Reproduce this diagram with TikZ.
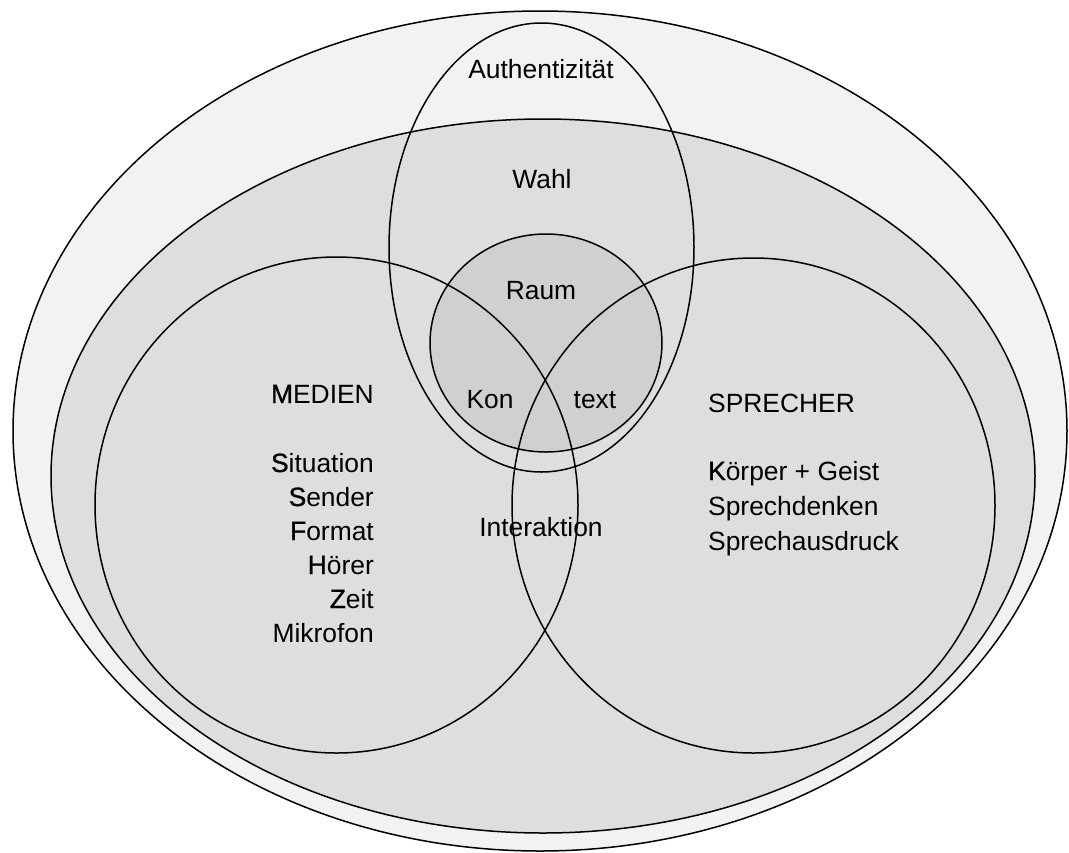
\documentclass[tikz,border=0pt]{standalone}
\usepackage{fontspec}
\setmainfont{Liberation Sans}
\newfontfamily\fbf[FakeBold=1.0]{Liberation Sans}
\newcommand{\hl}[1]{{\fbf #1}}
\tikzset{
  lbl/.style={inner sep=0pt, font=\fontsize{26.4}{34}\selectfont},
  ring/.style={draw=black, line width=1.5pt},
}
\begin{document}
\begin{tikzpicture}[x=1pt,y=-1pt]
\useasboundingbox (0,0) rectangle (1069,852);
% fills
\fill[fill={rgb,255:red,242;green,242;blue,242}] (540,431) ellipse [x radius=527, y radius=420];
\fill[fill={rgb,255:red,222;green,222;blue,222}] (543,476) ellipse [x radius=492, y radius=357];
\fill[fill={rgb,255:red,208;green,208;blue,208}] (546,343) ellipse [x radius=116, y radius=109];
% outlines
\draw[ring] (540,431) ellipse [x radius=527, y radius=420];
\draw[ring] (543,476) ellipse [x radius=492, y radius=357];
\draw[ring] (336.5,505) ellipse [x radius=241.5, y radius=248];
\draw[ring] (753.5,505.5) ellipse [x radius=241.5, y radius=247.5];
\draw[ring] (541.5,247.5) ellipse [x radius=152.5, y radius=224.5];
\draw[ring] (546,343) ellipse [x radius=116, y radius=109];
% labels
\node[lbl, anchor=base] (auth) at (541,78) {Authentizität};
\node[lbl, anchor=base] (wahl) at (542,188) {Wahl};
\node[lbl, anchor=base] (raum) at (541,299) {Raum};
\node[lbl, anchor=base] (kon) at (490,408) {Kon};
\node[lbl, anchor=base] (text) at (595,408) {text};
\node[lbl, anchor=base] (inter) at (541,536) {Interaktion};
% MEDIEN
\node[lbl, anchor=base east] (medien) at (374,403) {\hl{M}EDIEN};
\node[lbl, anchor=base east] (sit) at (374,472) {\hl{S}ituation};
\node[lbl, anchor=base east] (send) at (374,506) {\hl{S}ender};
\node[lbl, anchor=base east] (form) at (374,540) {\hl{F}ormat};
\node[lbl, anchor=base east] (hoer) at (374,574) {\hl{H}örer};
\node[lbl, anchor=base east] (zeit) at (374,608) {\hl{Z}eit};
\node[lbl, anchor=base east] (mikro) at (374,642) {Mikrofon};
% SPRECHER
\node[lbl, anchor=base west] (sprecher) at (708,412) {SPRECHER};
\node[lbl, anchor=base west] (koerper) at (708,480) {\hl{K}örper + Geist};
\node[lbl, anchor=base west] (denken) at (708,515) {Sprechdenken};
\node[lbl, anchor=base west] (ausdruck) at (708,550) {Sprechausdruck};
\end{tikzpicture}
\end{document}
